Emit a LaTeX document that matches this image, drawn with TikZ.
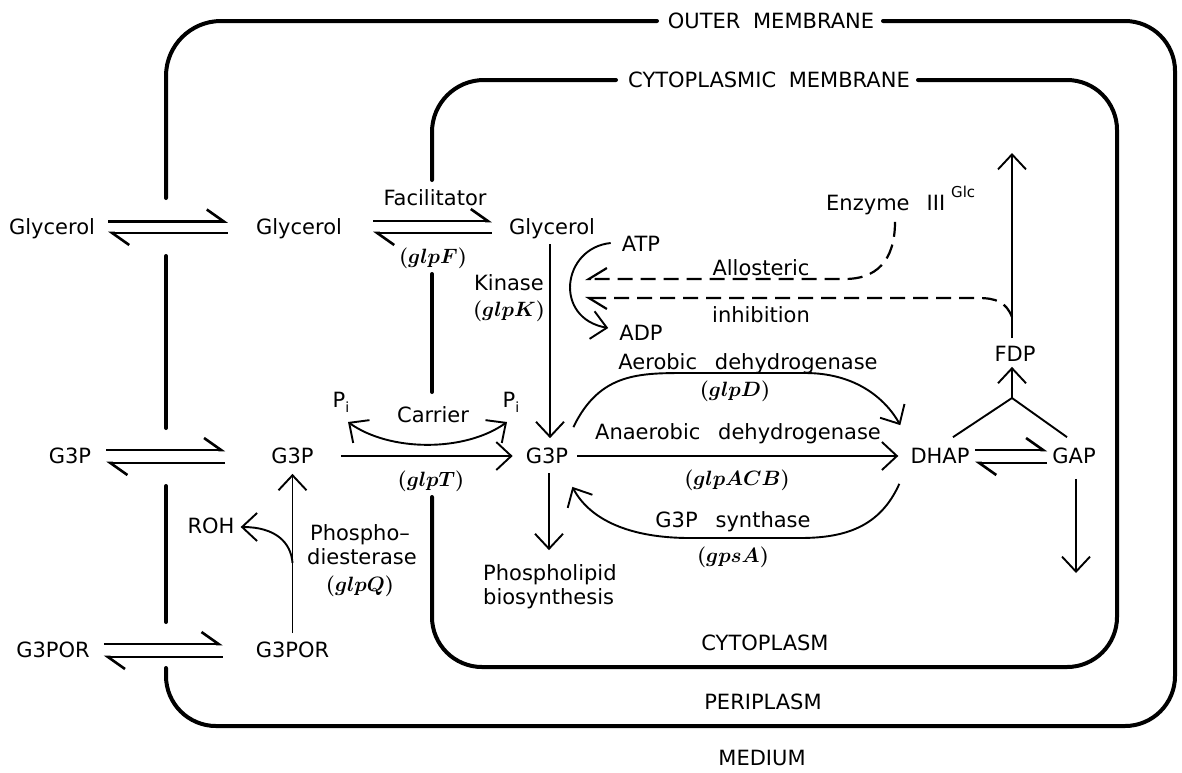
\documentclass[tikz,border=0pt]{standalone}
\usepackage{fontspec}
\setmainfont{DejaVu Sans}
\usetikzlibrary{arrows.meta,calc}
\newcommand\wg{\hspace{0.85em}}
\newcommand\cg{\hspace{0.6em}}
\newcommand\subi{\raisebox{-5pt}{\fontsize{14}{14}\selectfont i}}
\begin{document}
\begin{tikzpicture}[x=1pt,y=-1pt,
  lab/.style={inner sep=0pt, text height=15.3pt, text depth=0pt, font=\fontsize{21}{25}\selectfont},
  gene/.style={inner sep=0pt, font=\fontsize{20.74}{26}\selectfont\boldmath},
  mem/.style={line width=4pt, line cap=round},
  eq/.style={line width=2.6pt, -{Straight Barb[left, length=17pt, width=24pt]}},
  rx/.style={line width=1.9pt, -{Straight Barb[length=15pt, width=28pt]}},
  rxline/.style={line width=1.9pt},
  inh/.style={line width=2.2pt, dash pattern=on 15pt off 8pt}
]
\fill[white] (0,0) rectangle (1182,772);
\useasboundingbox (0,0) rectangle (1182,772);

% membranes
\draw[mem, rounded corners=55pt] (657,21) -- (166,21) -- (166,198);
\draw[mem, rounded corners=50pt] (883,21) -- (1175,21) -- (1175,726) -- (166,726) -- (166,668);
\draw[mem] (166,256) -- (166,428);
\draw[mem] (166,486) -- (166,622);
\draw[mem, rounded corners=52pt] (616,80) -- (432,80) -- (432,180);
\draw[mem, rounded corners=50pt] (918,80) -- (1117,80) -- (1117,667) -- (432,667) -- (432,497);
\draw[mem] (432,274) -- (432,392);

% compartment labels
\node[lab] (om) at (771,21) {OUTER\cg MEMBRANE};
\node[lab] (cm) at (769,80) {CYTOPLASMIC\cg MEMBRANE};
\node[lab] (cyt) at (765,643) {CYTOPLASM};
\node[lab] (peri) at (763,702) {PERIPLASM};
\node[lab] (med) at (762,758) {MEDIUM};

% metabolites
\node[lab] (glyO) at (52,227) {Glycerol};
\node[lab] (glyP) at (299,227) {Glycerol};
\node[lab] (glyC) at (552,227) {Glycerol};
\node[lab] (g3pO) at (70,456) {G3P};
\node[lab] (g3pP) at (292.5,456) {G3P};
\node[lab] (g3pC) at (547,456) {G3P};
\node[lab] (g3porO) at (53,650) {G3POR};
\node[lab] (g3porP) at (292.5,650) {G3POR};
\node[lab] (dhap) at (940,456) {DHAP};
\node[lab] (gap) at (1074,456) {GAP};
\node[lab] (fdp) at (1015,354) {FDP};
\node[lab] (atp) at (641,244) {ATP};
\node[lab] (adp) at (641,333) {ADP};
\node[lab, anchor=west] (enz) at (826,203) {Enzyme\hspace{17pt}III\hspace{6pt}\raisebox{13pt}{\fontsize{15}{15}\selectfont Glc}};
\node[lab] (roh) at (211,526) {ROH};
\node[lab] (pL) at (341,400) {P\subi};
\node[lab] (pR) at (511,400) {P\subi};
\node[lab, anchor=west] (phl1) at (483,573) {Phospholipid};
\node[lab, anchor=west] (phl2) at (483,597) {biosynthesis};

% enzyme labels
\node[lab] (fac) at (435,198) {Facilitator};
\node[gene] (glpF) at (433,258) {$(glpF)$};
\node[lab] (car) at (433,415) {Carrier};
\node[gene] (glpT) at (431,481) {$(glpT)$};
\node[lab] (kin) at (509,283) {Kinase};
\node[gene] (glpK) at (509,311) {$(glpK)$};
\node[lab] (allo) at (761,268) {Allosteric};
\node[lab] (inhb) at (761,315) {inhibition};
\node[lab] (aer) at (748,362) {Aerobic\wg dehydrogenase};
\node[gene] (glpD) at (735,391) {$(glpD)$};
\node[lab] (ana) at (738,432) {Anaerobic\wg dehydrogenase};
\node[gene] (glpACB) at (737,480) {$(glpACB)$};
\node[lab] (syn) at (733,520) {G3P\wg synthase};
\node[gene] (gpsA) at (733,557) {$(gpsA)$};
\node[lab] (pd1) at (360,533) {Phospho–};
\node[lab] (pd2) at (362,557) {diesterase};
\node[gene] (glpQ) at (360,586) {$(glpQ)$};

% equilibria
\draw[eq] ($(glyO.east)+(13,-5.5)$) -- ($(glyP.west)+(-28,-5.5)$);
\draw[eq] ($(glyP.west)+(-28,6)$) -- ($(glyO.east)+(13,6)$);
\draw[eq] ($(glyP.east)+(31,-6)$) -- ($(glyC.west)+(-17,-6)$);
\draw[eq] ($(glyC.west)+(-17,6)$) -- ($(glyP.east)+(31,6)$);
\draw[eq] ($(g3pO.east)+(15,-6)$) -- ($(g3pP.west)+(-46,-6)$);
\draw[eq] ($(g3pP.west)+(-46,7)$) -- ($(g3pO.east)+(15,7)$);
\draw[eq] ($(g3porO.east)+(14,-6)$) -- ($(g3porP.west)+(-33,-6)$);
\draw[eq] ($(g3porP.west)+(-33,7)$) -- ($(g3porO.east)+(14,7)$);
\draw[eq] ($(dhap.east)+(5.5,-6)$) -- ($(gap.west)+(-5,-6)$);
\draw[eq] ($(gap.west)+(-5,7)$) -- ($(dhap.east)+(5.5,7)$);

% reactions
\draw[rx] ($(g3pP.east)+(27,0)$) -- ($(g3pC.west)+(-13,0)$);
\draw[rx] ($(glyC.south)+(-2,9.5)$) -- ($(g3pC.north)+(3,-10)$);
\draw[rx] ($(g3pC.south)+(2,9.5)$) -- ($(phl1.north west)+(66,-15)$);
\draw[rx] ($(g3pC.east)+(9,0)$) -- ($(dhap.west)+(-12,0)$);
\draw[rx] ($(g3pC.north east)+(5,-21)$) .. controls (600,372) and (640,373) .. (690,373)
   -- (805,373) .. controls (855,373) and (885,398) .. ($(dhap.north west)+(-10,-23)$);
\draw[rx] ($(dhap.south west)+(-11,20)$) .. controls (880,527) and (845,538) .. (800,538)
   -- (690,538) .. controls (630,538) and (590,520) .. ($(g3pC.south east)+(4,23)$);
\draw[rx] ($(atp.west)+(-11,-1)$) .. controls (562,248) and (553,318) .. ($(adp.west)+(-11,-5)$);
\draw[line width=1.9pt, {Straight Barb[length=15pt, width=28pt]}-{Straight Barb[length=15pt, width=28pt]}]
   ($(pL.center)+(7,22)$) .. controls (390,452) and (465,452) .. ($(pR.center)+(-4,22)$);
\draw[rx] ($(g3porP.north)+(0,-9)$) -- ($(g3pP.south)+(0,10)$);
\coordinate (br) at (292.5,563);
\draw[rx] (br) .. controls (291,542) and (275,527) .. ($(roh.east)+(6,1)$);

% glycolysis side
\coordinate (apex) at (1012,398);
\draw[rxline] ($(dhap.north)+(13,-11)$) -- (apex) -- ($(gap.north)+(-7,-11)$);
\draw[rx] (apex) -- ($(fdp.south)+(-3,5)$);
\coordinate (fdptop) at (1012,153);
\draw[rx] ($(fdp.north)+(-3,-8)$) -- (fdptop);
\coordinate (gapout) at (1076,573);
\draw[rx] ($(gap.south)+(2,15)$) -- (gapout);

% allosteric inhibition
\coordinate (inhA) at (585,279);
\draw[inh, -{Straight Barb[right, length=18pt, width=22pt]}] ($(enz.south west)+(69,11)$)
   .. controls (895,262) and (875,279) .. (845,279) -- (inhA);
\coordinate (fdpj) at (1012,317);
\coordinate (inhB) at (585,298);
\draw[inh, -{Straight Barb[left, length=18pt, width=22pt]}] (fdpj)
   .. controls (1006,302) and (996,298) .. (978,298) -- (inhB);
\end{tikzpicture}
\end{document}
